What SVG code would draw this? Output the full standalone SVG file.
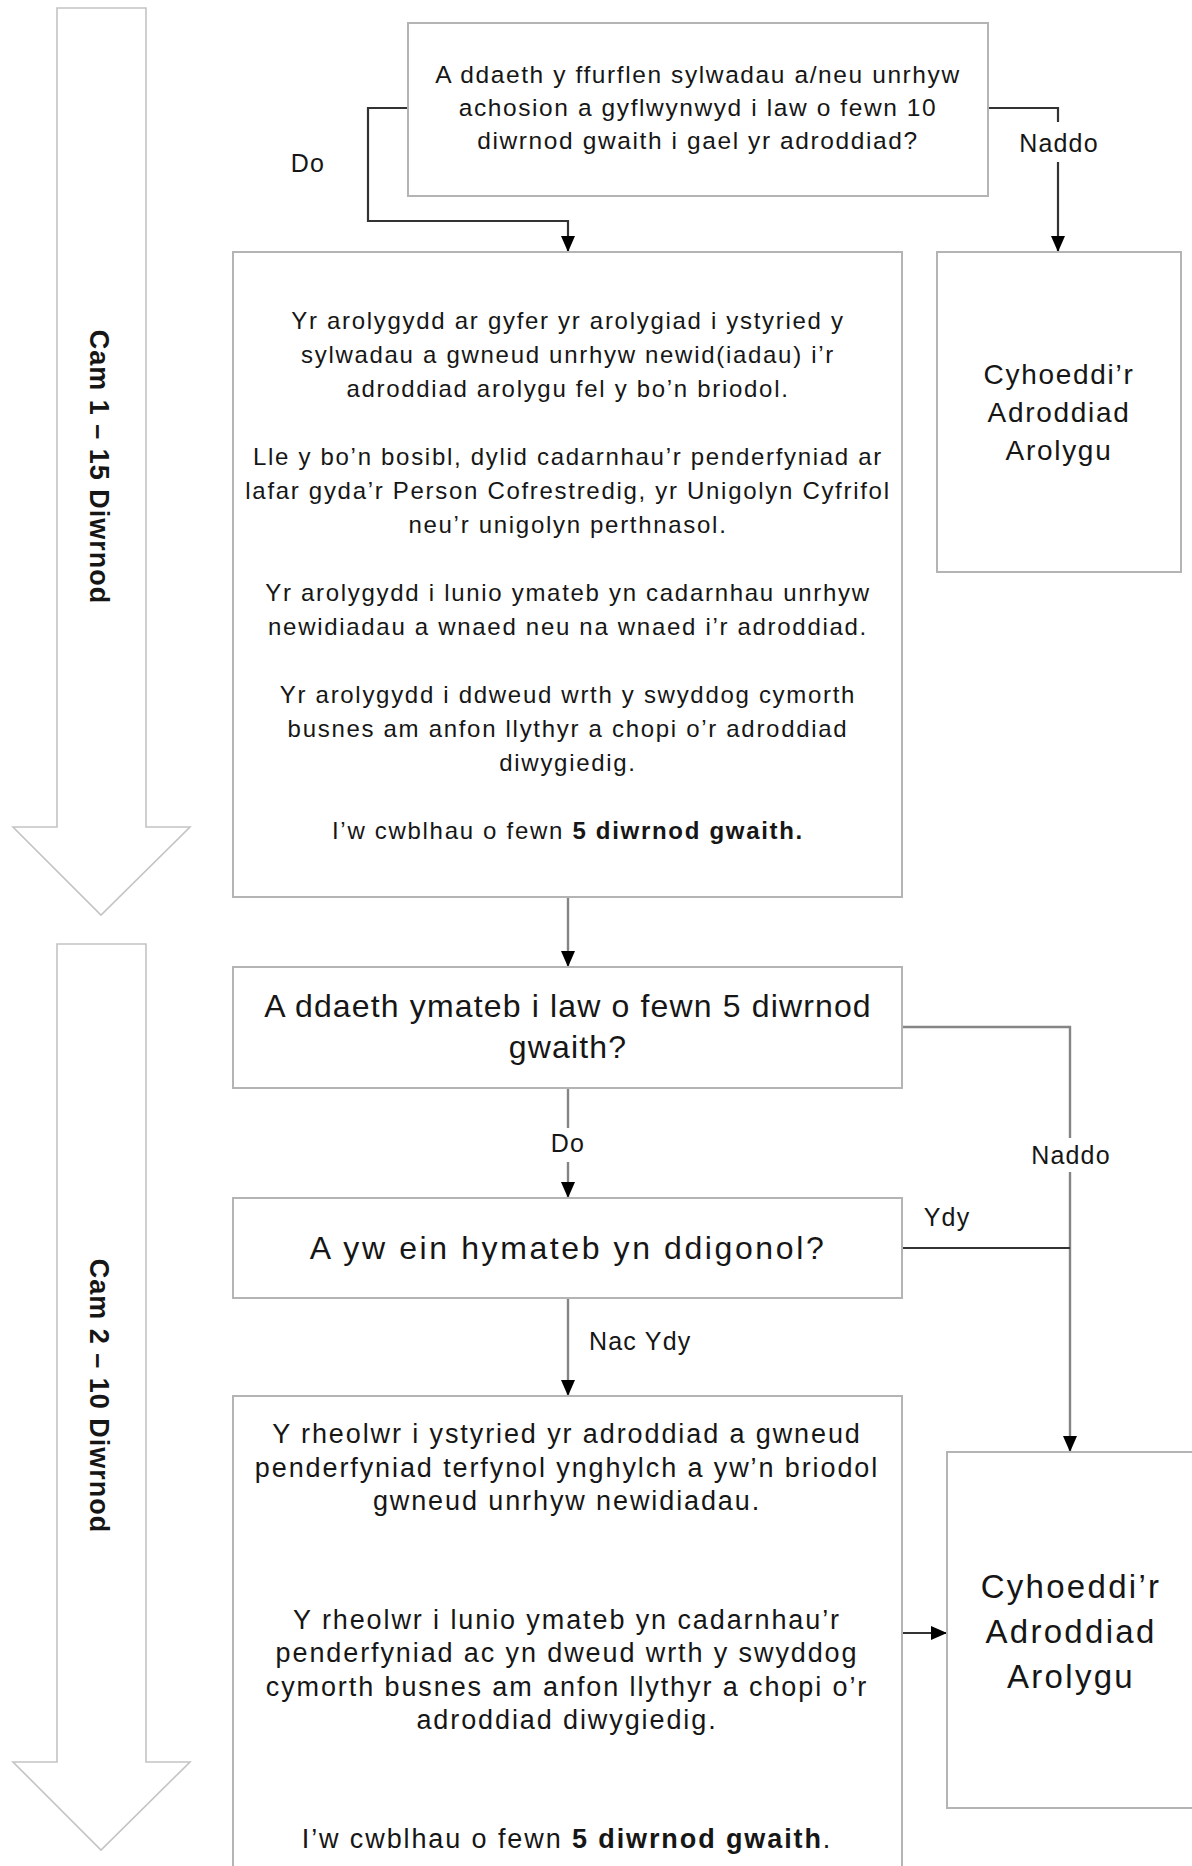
<svg xmlns="http://www.w3.org/2000/svg" width="1192" height="1866" viewBox="0 0 1192 1866">
<defs>
<style>
.box{fill:#fff;stroke:#b4b4b4;stroke-width:2}
.stage{fill:#fff;stroke:#c4c4c4;stroke-width:1.6}
text{font-family:"Liberation Sans",Arial,sans-serif;fill:#161616;text-anchor:middle}
.t245{font-size:24.5px;letter-spacing:1.6px}
.t24{font-size:24px;letter-spacing:1.7px}
.t27{font-size:27px;letter-spacing:1.9px}
.t28{font-size:28px;letter-spacing:1.7px}
.t32{font-size:32px}
.t33{font-size:33px;letter-spacing:2.3px}
.lbl{font-size:25px;letter-spacing:1.2px}
.rot{font-size:27px;font-weight:bold;letter-spacing:1px}
.dark{fill:none;stroke:#333;stroke-width:2.2}
.grey{fill:none;stroke:#858585;stroke-width:2.4}
</style>
<marker id="ah" viewBox="0 0 16 14" refX="16" refY="7" markerWidth="16" markerHeight="14" markerUnits="userSpaceOnUse" orient="auto">
<path d="M0,0 L16,7 L0,14 Z" fill="#000"/>
</marker>
</defs>
<rect width="1192" height="1866" fill="#fff"/>

<g id="stage1">
<path class="stage" d="M57,8 H146 V827 H190 L101,915 L13,827 H57 Z"/>
<text class="rot" transform="translate(100,467) rotate(90)" x="0" y="9.7">Cam 1 – 15 Diwrnod</text>
</g>
<g id="stage2">
<path class="stage" d="M57,944 H146 V1762 H190 L101,1850 L13,1762 H57 Z"/>
<text class="rot" transform="translate(100,1396) rotate(90)" x="0" y="9.7">Cam 2 – 10 Diwrnod</text>
</g>

<g id="connectors">
<path class="dark" d="M408,108 H368 V221 H568 V252" marker-end="url(#ah)"/>
<path class="dark" d="M988,108 H1058 V252" marker-end="url(#ah)"/>
<path class="grey" d="M568,897 V967" marker-end="url(#ah)"/>
<path class="grey" d="M568,1088 V1198" marker-end="url(#ah)"/>
<path class="grey" d="M568,1298 V1396" marker-end="url(#ah)"/>
<path class="grey" d="M902,1027 H1070 V1452" marker-end="url(#ah)"/>
<path class="dark" d="M902,1248 H1070"/>
<path class="dark" d="M902,1633 H947" marker-end="url(#ah)"/>
<rect x="1028" y="122" width="60" height="40" fill="#fff"/>
<rect x="545" y="1128" width="46" height="34" fill="#fff"/>
<rect x="1030" y="1138" width="84" height="34" fill="#fff"/>
<text class="lbl" x="308" y="172">Do</text>
<text class="lbl" x="1059" y="152">Naddo</text>
<text class="lbl" x="568" y="1152">Do</text>
<text class="lbl" x="1071" y="1164">Naddo</text>
<text class="lbl" x="947" y="1226">Ydy</text>
<text class="lbl" x="589" y="1350" style="text-anchor:start">Nac Ydy</text>
</g>

<g id="q1">
<rect class="box" x="408" y="23" width="580" height="173"/>
<text class="t245" x="698" y="82.6">A ddaeth y ffurflen sylwadau a/neu unrhyw</text>
<text class="t245" x="698" y="115.6">achosion a gyflwynwyd i law o fewn 10</text>
<text class="t245" x="698" y="148.6">diwrnod gwaith i gael yr adroddiad?</text>
</g>

<g id="review">
<rect class="box" x="233" y="252" width="669" height="645"/>
<text class="t24" x="568" y="328.5">Yr arolygydd ar gyfer yr arolygiad i ystyried y</text>
<text class="t24" x="568" y="362.5">sylwadau a gwneud unrhyw newid(iadau) i’r</text>
<text class="t24" x="568" y="396.5">adroddiad arolygu fel y bo’n briodol.</text>
<text class="t24" x="568" y="464.5">Lle y bo’n bosibl, dylid cadarnhau’r penderfyniad ar</text>
<text class="t24" x="568" y="498.5">lafar gyda’r Person Cofrestredig, yr Unigolyn Cyfrifol</text>
<text class="t24" x="568" y="532.5">neu’r unigolyn perthnasol.</text>
<text class="t24" x="568" y="600.5">Yr arolygydd i lunio ymateb yn cadarnhau unrhyw</text>
<text class="t24" x="568" y="634.5">newidiadau a wnaed neu na wnaed i’r adroddiad.</text>
<text class="t24" x="568" y="702.5">Yr arolygydd i ddweud wrth y swyddog cymorth</text>
<text class="t24" x="568" y="736.5">busnes am anfon llythyr a chopi o’r adroddiad</text>
<text class="t24" x="568" y="770.5">diwygiedig.</text>
<text class="t24" x="568" y="838.5">I’w cwblhau o fewn <tspan font-weight="bold">5 diwrnod gwaith.</tspan></text>
</g>

<g id="publish1">
<rect class="box" x="937" y="252" width="244" height="320"/>
<text class="t28" x="1059" y="384">Cyhoeddi’r</text>
<text class="t28" x="1059" y="422">Adroddiad</text>
<text class="t28" x="1059" y="460">Arolygu</text>
</g>

<g id="q2">
<rect class="box" x="233" y="967" width="669" height="121"/>
<text class="t32" x="568" y="1017" style="letter-spacing:1.15px">A ddaeth ymateb i law o fewn 5 diwrnod</text>
<text class="t32" x="568" y="1058" style="letter-spacing:1.15px">gwaith?</text>
</g>

<g id="q3">
<rect class="box" x="233" y="1198" width="669" height="100"/>
<text class="t32" x="568" y="1259" style="letter-spacing:2.6px">A yw ein hymateb yn ddigonol?</text>
</g>

<g id="manager">
<rect class="box" x="233" y="1396" width="669" height="520"/>
<text class="t27" x="567" y="1442.5">Y rheolwr i ystyried yr adroddiad a gwneud</text>
<text class="t27" x="567" y="1476.5">penderfyniad terfynol ynghylch a yw’n briodol</text>
<text class="t27" x="567" y="1509.5">gwneud unrhyw newidiadau.</text>
<text class="t27" x="567" y="1628.5">Y rheolwr i lunio ymateb yn cadarnhau’r</text>
<text class="t27" x="567" y="1661.5">penderfyniad ac yn dweud wrth y swyddog</text>
<text class="t27" x="567" y="1695.5">cymorth busnes am anfon llythyr a chopi o’r</text>
<text class="t27" x="567" y="1728.5">adroddiad diwygiedig.</text>
<text class="t27" x="567" y="1847.5">I’w cwblhau o fewn <tspan font-weight="bold">5 diwrnod gwaith</tspan>.</text>
</g>

<g id="publish2">
<rect class="box" x="947" y="1452" width="260" height="356"/>
<text class="t33" x="1071" y="1597.5">Cyhoeddi’r</text>
<text class="t33" x="1071" y="1642.5">Adroddiad</text>
<text class="t33" x="1071" y="1687.5">Arolygu</text>
</g>
</svg>
